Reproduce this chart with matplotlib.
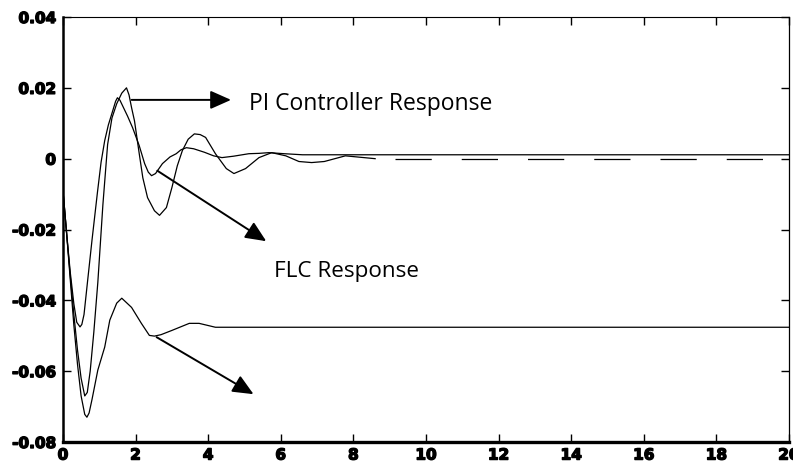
import matplotlib
matplotlib.use("Agg")
import matplotlib.pyplot as plt
import matplotlib.patheffects as pe
import numpy as np

# time axis values (s) and responses for each controller
t_flc = np.array([0, 0.1, 0.2, 0.3, 0.38, 0.47, 0.52, 0.58, 0.68, 0.8, 0.95, 1.05,
                  1.15, 1.25, 1.37, 1.45, 1.5, 1.57, 1.64, 1.78, 1.92, 2.1, 2.25,
                  2.35, 2.44, 2.55, 2.74, 2.95, 3.12, 3.25, 3.4, 3.6, 3.9, 4.15,
                  4.38, 4.7, 5.12, 5.4, 5.67, 6.1, 6.6, 8.0, 20.0])
flc = np.array([-0.009, -0.021, -0.032, -0.041, -0.0462, -0.0475, -0.0468, -0.044,
                -0.0344, -0.023, -0.0095, -0.001, 0.0051, 0.0095, 0.0135, 0.0162,
                0.0172, 0.0165, 0.015, 0.012, 0.0087, 0.0037, -0.0014, -0.0038,
                -0.0048, -0.0042, -0.0014, 0.0005, 0.0014, 0.0025, 0.0031, 0.0028,
                0.0018, 0.0008, 0.0003, 0.0007, 0.0014, 0.0015, 0.0017, 0.0014,
                0.0011, 0.0011, 0.0011])

t_pi = np.array([0, 0.1, 0.2, 0.3, 0.4, 0.5, 0.6, 0.67, 0.75, 0.85, 0.96, 1.1, 1.23,
                 1.35, 1.48, 1.62, 1.75, 1.82, 1.89, 1.97, 2.1, 2.2, 2.33, 2.52,
                 2.66, 2.85, 3.0, 3.15, 3.29, 3.45, 3.62, 3.78, 3.93, 4.2, 4.5,
                 4.71, 5.03, 5.4, 5.75, 6.14, 6.5, 6.85, 7.2, 7.78, 8.6, 20.0])
pi = np.array([-0.009, -0.021, -0.033, -0.044, -0.054, -0.062, -0.067, -0.066,
               -0.060, -0.049, -0.035, -0.013, 0.004, 0.0115, 0.0155, 0.0185,
               0.020, 0.018, 0.0144, 0.0107, 0.0015, -0.0054, -0.011, -0.0147,
               -0.016, -0.0138, -0.0082, -0.002, 0.0023, 0.0055, 0.007, 0.0068,
               0.006, 0.0014, -0.0028, -0.0042, -0.0028, 0.0003, 0.0017, 0.0008,
               -0.0008, -0.0011, -0.0008, 0.0008, 0.0, 0.0])

t_nc = np.array([0, 0.1, 0.2, 0.3, 0.4, 0.5, 0.6, 0.66, 0.72, 0.8, 0.96, 1.15,
                 1.29, 1.48, 1.62, 1.89, 2.16, 2.38, 2.52, 2.7, 3.0, 3.48, 3.75,
                 4.2, 5.0, 8.0, 20.0])
nc = np.array([-0.009, -0.021, -0.034, -0.047, -0.058, -0.067, -0.0722, -0.073,
               -0.0718, -0.068, -0.0597, -0.0532, -0.0456, -0.0408, -0.0394,
               -0.042, -0.0465, -0.0499, -0.0501, -0.0497, -0.0485, -0.0465,
               -0.0465, -0.0476, -0.0476, -0.0476, -0.0476])

x_ticks = np.arange(0, 21, 2)
y_ticks = [-0.08, -0.06, -0.04, -0.02, 0, 0.02, 0.04]
y_labels = ["-0.08", "-0.06", "-0.04", "-0.02", "0", "0.02", "0.04"]

fig = plt.figure(figsize=(7.93, 4.66), dpi=100)
ax = fig.add_axes([0.0794, 0.0515, 0.9155, 0.912])

ax.plot(t_flc, flc, color="black", lw=0.9)
ax.plot(t_nc, nc, color="black", lw=0.9)

# PI response: transient drawn solid, steady-state tail with long dashes
split = 8.6
ax.plot(t_pi[t_pi <= split], pi[t_pi <= split], color="black", lw=0.9)
ax.plot(t_pi[t_pi >= split], pi[t_pi >= split], color="black", lw=0.9,
        linestyle=(37, (29, 24)))

ax.set_xlim(0, 20)
ax.set_ylim(-0.08, 0.04)
ax.set_xticks(x_ticks)
ax.set_xticklabels([str(v) for v in x_ticks])
ax.set_yticks(y_ticks)
ax.set_yticklabels(y_labels)

# heavy, blocky tick numbers
for lab in ax.get_xticklabels() + ax.get_yticklabels():
    lab.set_fontweight("bold")
    lab.set_fontsize(11)
    lab.set_family("DejaVu Sans")
    lab.set_path_effects([pe.withStroke(linewidth=1.0, foreground="black")])

ax.tick_params(direction="in", length=6, width=1, top=True, right=True)
ax.tick_params(axis="x", pad=4)
ax.tick_params(axis="y", pad=5)

ax.spines["left"].set_linewidth(1.8)
ax.spines["bottom"].set_linewidth(2.4)
ax.spines["top"].set_linewidth(0.8)
ax.spines["right"].set_linewidth(0.9)

arrow = dict(arrowstyle="-|>,head_length=0.9,head_width=0.4", color="black",
             lw=1.4, mutation_scale=14, shrinkA=0, shrinkB=0)

ax.annotate("", xy=(4.63, 0.0166), xytext=(1.89, 0.0166), arrowprops=arrow)
ax.annotate("", xy=(5.6, -0.0233), xytext=(2.6, -0.0034), arrowprops=arrow)
ax.annotate("", xy=(5.25, -0.0665), xytext=(2.58, -0.0504), arrowprops=arrow)

ax.text(5.12, 0.0155, "PI Controller Response", fontsize=16.5, family="Open Sans",
        va="center", ha="left")
ax.text(5.81, -0.0318, "FLC Response", fontsize=16.2, family="Open Sans",
        va="center", ha="left")

fig.savefig("out.png", dpi=100)
